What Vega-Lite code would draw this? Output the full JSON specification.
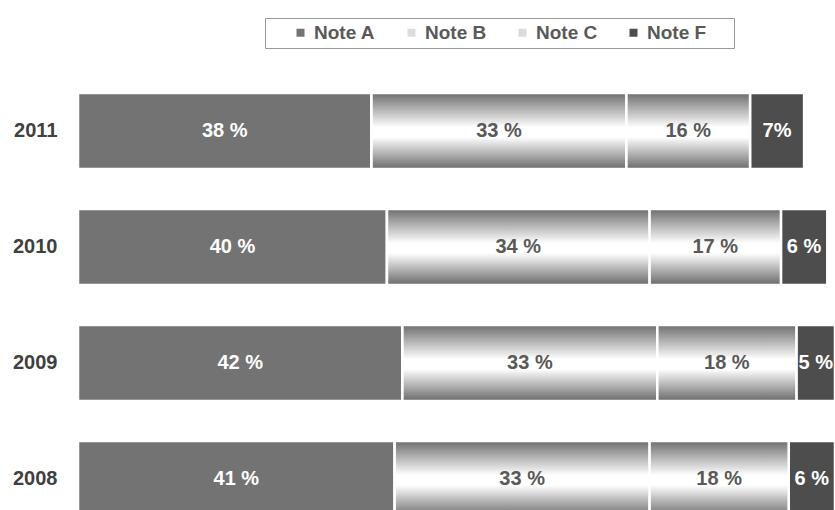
{
  "$schema": "https://vega.github.io/schema/vega-lite/v6.json",
  "autosize": "none",
  "width": 757,
  "height": 437,
  "padding": {"left": 78, "top": 73, "right": 0, "bottom": 0},
  "config": {
    "font": "Liberation Sans",
    "view": {"stroke": null}
  },
  "data": {
    "values": [
      {"year": "2011", "note": "Note A", "order": 1, "value": 38, "label": "38 %"},
      {"year": "2011", "note": "Note B", "order": 2, "value": 33, "label": "33 %"},
      {"year": "2011", "note": "Note C", "order": 3, "value": 16, "label": "16 %"},
      {"year": "2011", "note": "Note F", "order": 4, "value": 7, "label": "7%"},
      {"year": "2010", "note": "Note A", "order": 1, "value": 40, "label": "40 %"},
      {"year": "2010", "note": "Note B", "order": 2, "value": 34, "label": "34 %"},
      {"year": "2010", "note": "Note C", "order": 3, "value": 17, "label": "17 %"},
      {"year": "2010", "note": "Note F", "order": 4, "value": 6, "label": "6 %"},
      {"year": "2009", "note": "Note A", "order": 1, "value": 42, "label": "42 %"},
      {"year": "2009", "note": "Note B", "order": 2, "value": 33, "label": "33 %"},
      {"year": "2009", "note": "Note C", "order": 3, "value": 18, "label": "18 %"},
      {"year": "2009", "note": "Note F", "order": 4, "value": 5, "label": "5 %"},
      {"year": "2008", "note": "Note A", "order": 1, "value": 41, "label": "41 %"},
      {"year": "2008", "note": "Note B", "order": 2, "value": 33, "label": "33 %"},
      {"year": "2008", "note": "Note C", "order": 3, "value": 18, "label": "18 %"},
      {"year": "2008", "note": "Note F", "order": 4, "value": 6, "label": "6 %"}
    ]
  },
  "transform": [
    {"stack": "value", "groupby": ["year"], "sort": [{"field": "order", "order": "ascending"}], "as": ["x0", "x1"]},
    {"calculate": "(datum.x0 + datum.x1) / 2", "as": "xmid"}
  ],
  "encoding": {
    "y": {
      "field": "year",
      "type": "nominal",
      "sort": "descending",
      "scale": {"range": [0, 464], "paddingInner": 0.345, "paddingOuter": 0.1725},
      "axis": {
        "title": null,
        "domain": false,
        "ticks": false,
        "labelFontSize": 20,
        "labelFontWeight": "bold",
        "labelColor": "#404040",
        "labelPadding": 21
      }
    }
  },
  "layer": [
    {
      "mark": {"type": "bar", "stroke": "white", "strokeWidth": 2.5, "clip": true},
      "encoding": {
        "x": {"field": "x0", "type": "quantitative", "scale": {"domain": [0, 98], "nice": false, "zero": true}, "axis": null},
        "x2": {"field": "x1"},
        "color": {
          "field": "note",
          "type": "nominal",
          "scale": {"domain": ["Note A", "Note B", "Note C", "Note F"], "range": ["#737373", "#dcdcdc", "#dcdcdc", "#4d4d4d"]},
          "legend": {
            "title": "\u00a0",
            "titleOrient": "right",
            "titlePadding": 23,
            "titleFontSize": 18,
            "orient": "none",
            "direction": "horizontal",
            "legendX": 187,
            "legendY": -55,
            "symbolType": "square",
            "symbolSize": 64,
            "symbolStrokeWidth": 0,
            "symbolOffset": 21,
            "columnPadding": 5,
            "labelOffset": 4,
            "labelFontSize": 19,
            "labelFontWeight": "bold",
            "labelColor": "#595959",
            "strokeColor": "#999999",
            "fillColor": "white",
            "padding": 5
          }
        }
      }
    },
    {
      "transform": [{"filter": "datum.note == 'Note B' || datum.note == 'Note C'"}],
      "mark": {
        "type": "bar",
        "stroke": "white",
        "strokeWidth": 2.5,
        "clip": true,
        "fill": {
          "gradient": "linear",
          "x1": 0, "y1": 0, "x2": 0, "y2": 1,
          "stops": [
            {"offset": 0, "color": "#6e6e6e"},
            {"offset": 0.45, "color": "#ffffff"},
            {"offset": 0.58, "color": "#ffffff"},
            {"offset": 1, "color": "#6a6a6a"}
          ]
        }
      },
      "encoding": {
        "x": {"field": "x0", "type": "quantitative"},
        "x2": {"field": "x1"}
      }
    },
    {
      "mark": {"type": "text", "fontSize": 20, "fontWeight": "bold", "baseline": "middle", "align": "center"},
      "encoding": {
        "x": {"field": "xmid", "type": "quantitative"},
        "text": {"field": "label"},
        "color": {
          "condition": {"test": "datum.note == 'Note B' || datum.note == 'Note C'", "value": "#595959"},
          "value": "white"
        }
      }
    }
  ]
}
